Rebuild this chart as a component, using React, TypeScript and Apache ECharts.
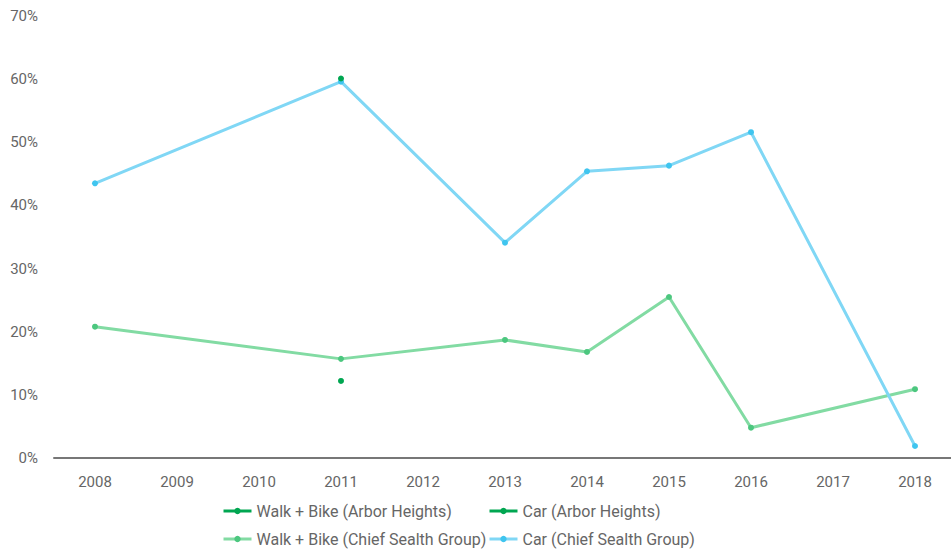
import React, { useEffect, useRef } from "react";
import * as echarts from "echarts";

const years = ["2008", "2009", "2010", "2011", "2012", "2013", "2014", "2015", "2016", "2017", "2018"];
const walkArbor = [null, null, null, 12.2, null, null, null, null, null, null, null];
const carArbor = [null, null, null, 60.1, null, null, null, null, null, null, null];
const walkChief = [20.8, null, null, 15.7, null, 18.7, 16.8, 25.5, 4.8, null, 10.9];
const carChief = [43.5, null, null, 59.6, null, 34.1, 45.4, 46.3, 51.6, null, 1.9];
const seriesNames = [
  "Walk + Bike (Arbor Heights)",
  "Car (Arbor Heights)",
  "Walk + Bike (Chief Sealth Group)",
  "Car (Chief Sealth Group)",
];

const FONT = "Roboto";

export default function App() {
  const ref = useRef<HTMLDivElement>(null);
  useEffect(() => {
    const chart = echarts.init(ref.current!, null, { renderer: "svg" });
    const mk = (name: string, data: any[], line: string, dot: string, z: number) => ({
      name,
      type: "line",
      data,
      connectNulls: true,
      symbol: "circle",
      symbolSize: 6,
      z,
      itemStyle: { color: dot },
      lineStyle: { color: line, width: 3 },
    });
    const legendPos = [
      [222, 503],
      [488, 503],
      [222, 531],
      [488, 531],
    ];
    chart.setOption({
      animation: false,
      textStyle: { fontFamily: FONT },
      grid: { left: 54, right: 0, top: 16, bottom: 92, containLabel: false },
      legend: seriesNames.map((n, i) => ({
        left: legendPos[i][0],
        top: legendPos[i][1],
        padding: 0,
        itemGap: 0,
        itemWidth: 28,
        itemHeight: 8,
        lineStyle: { width: 3 },
        textStyle: { color: "#666", fontSize: 16, fontFamily: FONT },
        data: [{ name: n }],
      })),
      xAxis: {
        type: "category",
        data: years,
        boundaryGap: true,
        axisLine: { lineStyle: { color: "#777", width: 2 } },
        axisTick: { show: false },
        axisLabel: { color: "#666", fontSize: 15, margin: 16, fontFamily: FONT },
      },
      yAxis: {
        type: "value",
        min: 0,
        max: 70,
        interval: 10,
        splitLine: { show: false },
        axisLine: { show: false },
        axisTick: { show: false },
        axisLabel: { color: "#666", fontSize: 15, margin: 16, formatter: "{value}%", fontFamily: FONT },
      },
      series: [
        mk(seriesNames[0], walkArbor, "#00a651", "#00a651", 5),
        mk(seriesNames[1], carArbor, "#00a651", "#00a651", 5),
        mk(seriesNames[2], walkChief, "#82dba3", "#4cc77f", 3),
        mk(seriesNames[3], carChief, "#80d7f5", "#3fc5ef", 3),
      ],
    });
    return () => chart.dispose();
  }, []);
  return (
    <div style={{ width: 951, height: 550, position: "absolute", left: 0, top: 0, overflow: "hidden" }}>
      <div ref={ref} style={{ width: 956, height: 550 }} />
    </div>
  );
}
